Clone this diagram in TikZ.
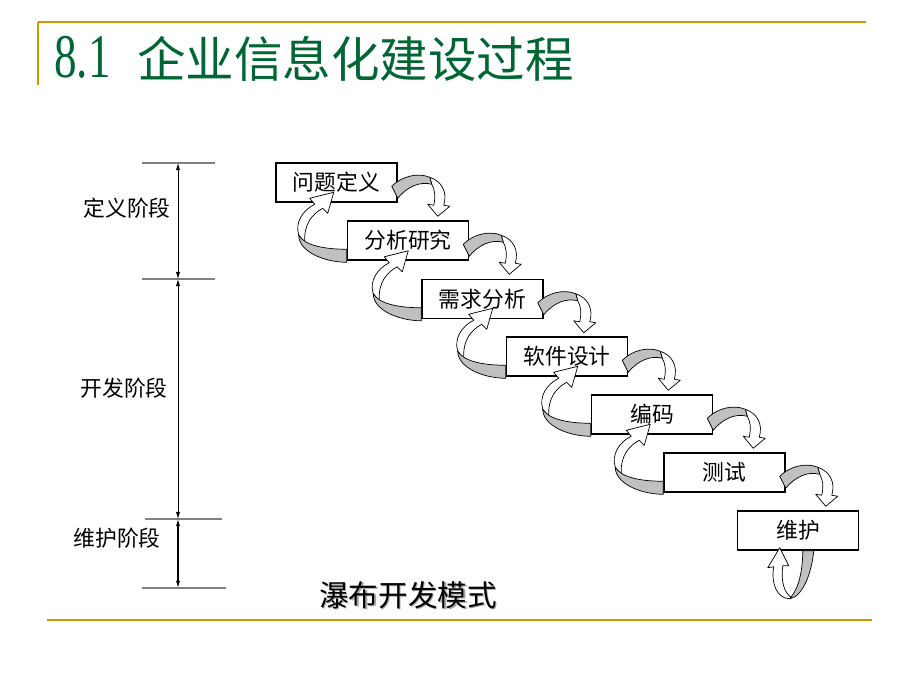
\documentclass[tikz,border=0pt]{standalone}
\usepackage{fontspec}
\setmainfont{Liberation Serif}
\newfontfamily\cjk{Noto Sans CJK SC}
\usetikzlibrary{arrows.meta}
\definecolor{gold}{RGB}{204,153,0}
\definecolor{titlegreen}{RGB}{0,102,51}
\definecolor{band}{RGB}{192,192,192}
\tikzset{
  stage/.style={draw=black, fill=white, line width=0.9pt, minimum width=3.03cm,
    minimum height=0.98cm, inner sep=0pt, font=\cjk\fontsize{15.5}{18}\selectfont},
  phase/.style={font=\cjk\fontsize{15.5}{18}\selectfont},
  ribbon/.style={draw=black, line width=0.5pt, line join=round},
  dimline/.style={draw=gray, line width=0.8pt},
  dimarrow/.style={line width=0.6pt, {Latex[length=5pt,width=3pt]}-{Latex[length=5pt,width=3pt]}}
}
% curled arrow from a box down to the next one
\newcommand{\stepdown}[1]{%
  \begin{scope}[shift={(#1.north east)}]
    \filldraw[ribbon, fill=white] (32,15) .. controls (44,19) and (50,30) .. (46,43) -- (52,44)
      -- (40,54) -- (30,42) -- (36,43) .. controls (38,34) and (37,27) .. (34,22) -- cycle;
    \filldraw[ribbon, fill=band] (-6,24) .. controls (4,14) and (20,10) .. (32,15) -- (34,22)
      .. controls (22,19) and (10,24) .. (0,36) -- cycle;
  \end{scope}}
% curled arrow from a box back up to the one before
\newcommand{\stepup}[1]{%
  \begin{scope}[shift={(#1.north west)}]
    \filldraw[ribbon, fill=white] (-48,15) .. controls (-52,2) and (-44,-10) .. (-32,-16) -- (-37,-22)
      -- (-13,-28) -- (-19,-7) -- (-24,-12) .. controls (-35,-6) and (-43,4) .. (-42,22) -- cycle;
    \filldraw[ribbon, fill=band] (0,29) .. controls (-23,29) and (-42,25) .. (-48,15)
      .. controls (-48,31) and (-23,42) .. (0,42) -- cycle;
  \end{scope}}
\begin{document}
\begin{tikzpicture}[x=0.025cm, y=-0.025cm]
	\useasboundingbox (0,0) rectangle (920,690);
	
	% frame
	\draw[gold, line width=2pt] (38,22) -- (866,22);
	\draw[gold, line width=0.8pt] (38,22) -- (38,85);
	\draw[gold, line width=2pt] (47,620) -- (872,620);
	\node[anchor=west, inner sep=0pt, text=titlegreen] (title) at (54,59)
	  {\fontsize{34.5}{40}\selectfont\scalebox{0.93}[1.28]{8.1}\hspace{19pt}{\cjk 企业信息化建设过程}};
	
	% phases
	\coordinate (t1) at (178,163);
	\coordinate (t2) at (178,279);
	\coordinate (t3) at (178,519);
	\coordinate (t4) at (178,588);
	\draw[dimline] (142,163) -- (215,163);
	\draw[dimline] (142,279) -- (215,279);
	\draw[dimline] (145,519) -- (222,519);
	\draw[dimline] (142,588) -- (226,588);
	\draw[dimarrow] (t1) -- (t2);
	\draw[dimarrow] (t2) -- (t3);
	\draw[dimarrow, line width=0.8pt] (t3) -- (t4);
	\node[phase] (p1) at (127,208) {定义阶段};
	\node[phase] (p2) at (124,388) {开发阶段};
	\node[phase] (p3) at (117,538) {维护阶段};
	
	% steps
	\node[stage] (s1) at (336.5,182.5) {问题定义};
	\node[stage] (s2) at (408,240.5) {分析研究};
	\node[stage] (s3) at (482.5,299) {需求分析};
	\node[stage] (s4) at (567,356.5) {软件设计};
	\node[stage] (s5) at (652,414.5) {编码};
	\node[stage] (s6) at (724.5,472.5) {测试};
	\node[stage] (s7) at (798,530.5) {维护};
	
	\foreach \s in {s1,s2,s3,s4,s5,s6} {\stepdown{\s}}
	\foreach \s in {s2,s3,s4,s5,s6} {\stepup{\s}}
	
	% maintenance loop
	\begin{scope}[shift={(s7.south west)}]
	  \filldraw[ribbon, fill=white] (53,48) .. controls (40,48) and (34,32) .. (37,16) -- (31,17)
	    -- (43,-3) -- (52,15) -- (46,15) .. controls (44,30) and (47,42) .. (55,47) -- cycle;
	  \filldraw[ribbon, fill=band] (77,0) .. controls (75,22) and (66,46) .. (53,48)
	    .. controls (62,38) and (66,20) .. (66,0) -- cycle;
	\end{scope}
	
	\node[text=black!35, font=\cjk\fontsize{21}{25}\selectfont] (capshade) at (409.5,596.5) {瀑布开发模式};
	\node[font=\cjk\fontsize{21}{25}\selectfont] (cap) at (408,595) {瀑布开发模式};
\end{tikzpicture}
\end{document}
